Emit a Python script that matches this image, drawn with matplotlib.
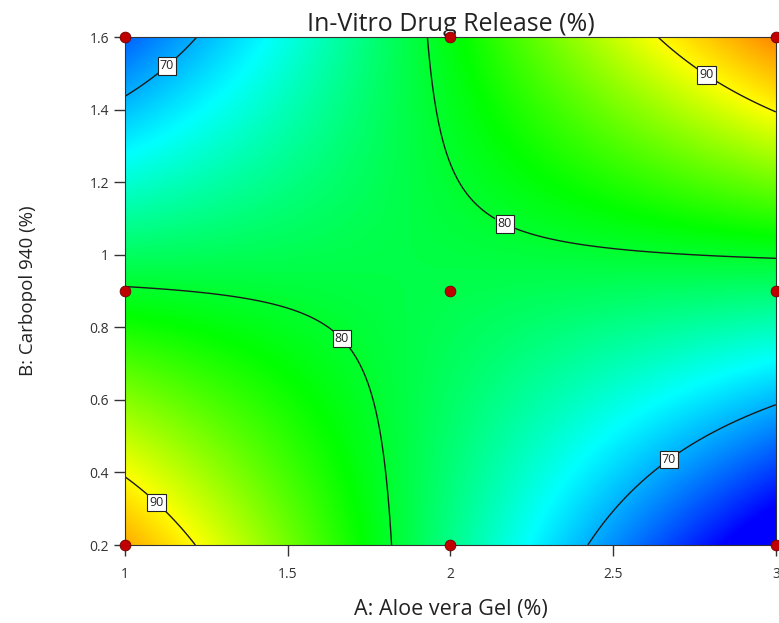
import numpy as np
import matplotlib
matplotlib.use("Agg")
import matplotlib.pyplot as plt
from matplotlib.colors import LinearSegmentedColormap
from matplotlib.ticker import FormatStrFormatter

plt.rcParams['font.family'] = ['Open Sans', 'DejaVu Sans']

aloe_levels = [1, 2, 3]
carbopol_levels = [0.2, 0.9, 1.6]
# rows: Carbopol level, columns: Aloe vera level
drug_release = [[93.6, 77.0, 60.4],
                [80.2, 79.0, 77.8],
                [66.9, 81.0, 95.1]]
contour_levels = [70, 80, 90]


def fit_2fi(a_vals, b_vals, resp):
    """Fit y = b0 + b1*A + b2*B + b12*A*B in coded units (Design-Expert style)"""
    a_mid, a_half = np.mean(a_vals), (max(a_vals) - min(a_vals)) / 2
    b_mid, b_half = np.mean(b_vals), (max(b_vals) - min(b_vals)) / 2
    aa, bb = np.meshgrid(a_vals, b_vals)
    xa = ((aa - a_mid) / a_half).ravel()
    xb = ((bb - b_mid) / b_half).ravel()
    X = np.column_stack([np.ones_like(xa), xa, xb, xa * xb])
    coef, *_ = np.linalg.lstsq(X, np.ravel(resp), rcond=None)

    def predict(a, b):
        ca = (a - a_mid) / a_half
        cb = (b - b_mid) / b_half
        return coef[0] + coef[1] * ca + coef[2] * cb + coef[3] * ca * cb
    return predict


model = fit_2fi(aloe_levels, carbopol_levels, drug_release)

ag = np.linspace(min(aloe_levels), max(aloe_levels), 400)
bg = np.linspace(min(carbopol_levels), max(carbopol_levels), 400)
AG, BG = np.meshgrid(ag, bg)
Z = model(AG, BG)

# blue -> cyan -> green -> yellow -> red
vmin, vmax = 63, 101
stops = [(63, '#0000ff'), (73, '#00ffff'), (81.5, '#00ff00'), (90, '#ffff00'), (101, '#ff0000')]
cmap = LinearSegmentedColormap.from_list(
    'de', [((v - vmin) / (vmax - vmin), c) for v, c in stops])

fig = plt.figure(figsize=(7.79, 6.23), dpi=100)
ax = fig.add_axes([0.1605, 0.1252, 0.8355, 0.8154])

ax.imshow(Z, extent=[ag[0], ag[-1], bg[0], bg[-1]], origin='lower',
          aspect='auto', cmap=cmap, vmin=vmin, vmax=vmax, interpolation='bilinear')
cs = ax.contour(AG, BG, Z, levels=contour_levels, colors='#1a1a1a', linewidths=1.0)
label_pos = [(1.12, 1.53), (2.79, 1.50), (2.17, 1.09),
             (1.68, 0.78), (1.11, 0.33), (2.66, 0.45)]
labels = ax.clabel(cs, fmt='%d', fontsize=9, manual=label_pos, inline=True, inline_spacing=4)
for t in labels:
    t.set_rotation(0)
    t.set_color('#222222')
    t.set_bbox(dict(facecolor='white', edgecolor='#222222', pad=1.5, linewidth=0.8))

aa, bb = np.meshgrid(aloe_levels, carbopol_levels)
ax.scatter(aa.ravel(), bb.ravel(), s=60, color='#c00000', edgecolor='#700000',
           linewidth=0.6, zorder=5, clip_on=False)

ax.set_xlim(1, 3)
ax.set_ylim(0.2, 1.6)
ax.set_xticks([1, 1.5, 2, 2.5, 3])
ax.set_yticks([0.2, 0.4, 0.6, 0.8, 1.0, 1.2, 1.4, 1.6])
ax.xaxis.set_major_formatter(FormatStrFormatter('%g'))
ax.yaxis.set_major_formatter(FormatStrFormatter('%g'))
ax.tick_params(axis='both', labelsize=10, colors='#333333', length=8, width=1)
ax.tick_params(axis='x', pad=8)
for s in ax.spines.values():
    s.set_color('#333333')
    s.set_linewidth(0.8)

ax.set_title('In-Vitro Drug Release (%)', fontsize=18, color='#222222', pad=3)
ax.set_xlabel('A: Aloe vera Gel (%)', fontsize=15.5, color='#222222', labelpad=12)
ax.set_ylabel('B: Carbopol 940 (%)', fontsize=13.5, color='#222222', labelpad=38)

fig.savefig('out.png', dpi=100)
